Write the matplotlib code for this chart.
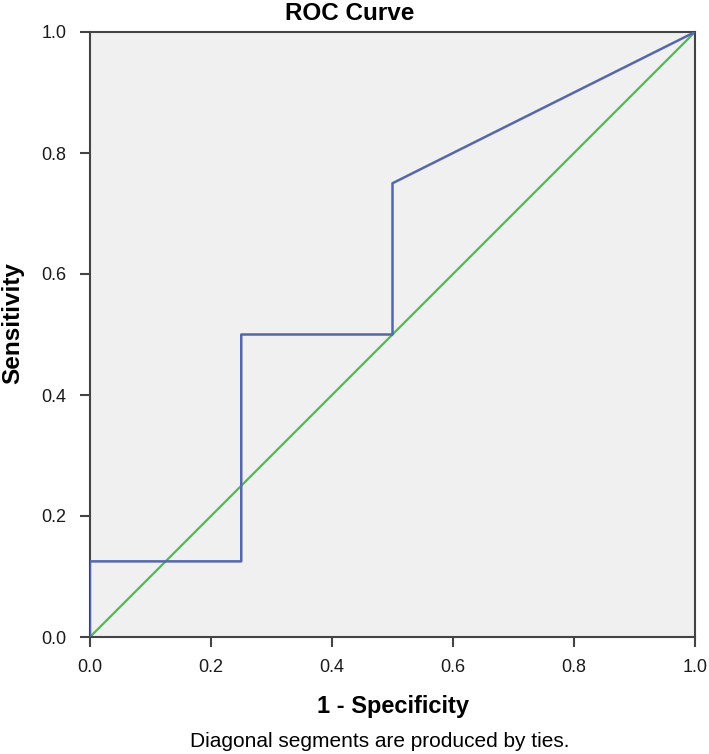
import matplotlib
matplotlib.use("Agg")
import matplotlib.pyplot as plt

fpr = [0.0, 0.0, 0.25, 0.25, 0.5, 0.5, 1.0]
tpr = [0.0, 0.125, 0.125, 0.5, 0.5, 0.75, 1.0]
ref_x = [0.0, 1.0]
ref_y = [0.0, 1.0]
ticks = [0.0, 0.2, 0.4, 0.6, 0.8, 1.0]
tick_labels = ["0.0", "0.2", "0.4", "0.6", "0.8", "1.0"]

plt.rcParams['font.family'] = ['Liberation Sans', 'DejaVu Sans']

W, H = 709, 754
fig = plt.figure(figsize=(W / 100, H / 100), dpi=100)
ax = fig.add_axes([90 / W, 117 / H, 605 / W, 605 / H])
ax.set_facecolor('#f0f0f0')
ax.plot(ref_x, ref_y, color='#4cbb55', lw=1.6, zorder=2)
ax.plot(fpr, tpr, color='#5566aa', lw=1.8, zorder=3)
ax.set_xlim(0, 1)
ax.set_ylim(0, 1)
ax.set_xticks(ticks)
ax.set_xticklabels(tick_labels)
ax.set_yticks(ticks)
ax.set_yticklabels(tick_labels)
for s in ax.spines.values():
    s.set_color('#444444')
    s.set_linewidth(1.5)
ax.tick_params(direction='out', length=7, width=1.5, color='#444444',
               labelsize=13, labelcolor='#1a1a1a')
ax.tick_params(axis='x', pad=9)
ax.tick_params(axis='y', pad=10)

fig.text(350 / W, 1 - 20 / H, 'ROC Curve', fontsize=17.5, fontweight='bold',
         ha='center', va='baseline')
fig.text(393 / W, 1 - 713 / H, '1 - Specificity', fontsize=17, fontweight='bold',
         ha='center', va='baseline')
fig.text(12.5 / W, 1 - 323 / H, 'Sensitivity', fontsize=17.5, fontweight='bold',
         ha='center', va='center', rotation=90)
fig.text(380 / W, 1 - 747 / H, 'Diagonal segments are produced by ties.',
         fontsize=15, ha='center', va='baseline')
fig.savefig('out.png', dpi=100)
